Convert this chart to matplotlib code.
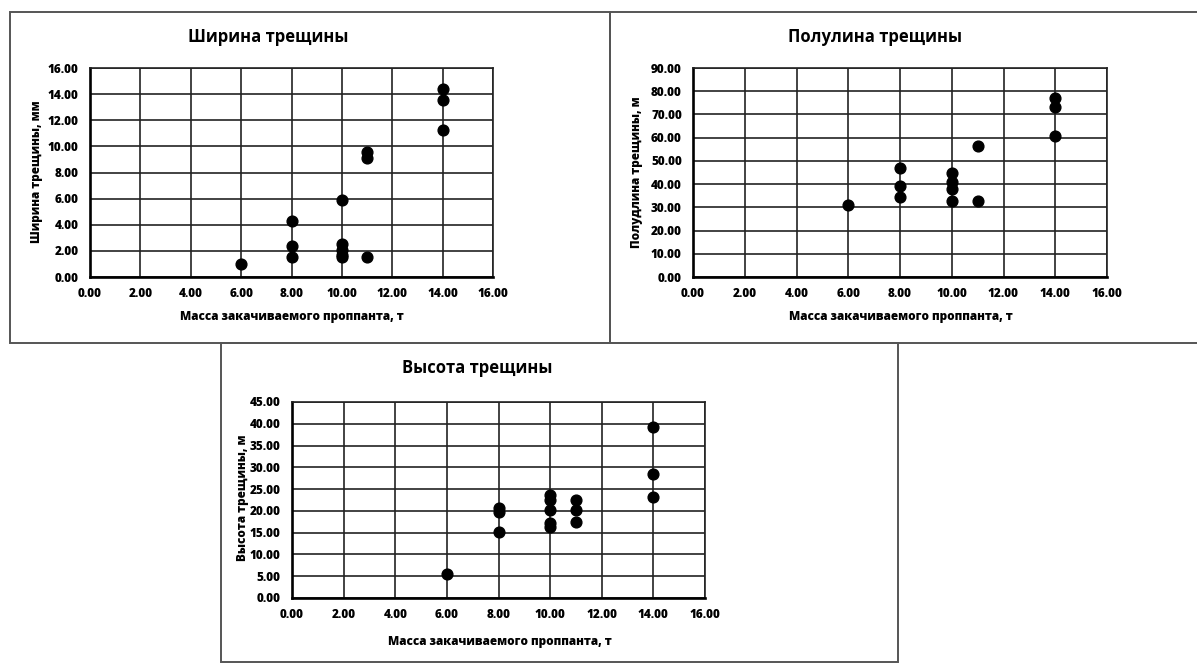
import matplotlib.pyplot as plt
from matplotlib.patches import Rectangle

plt.rcParams['font.family'] = ['Open Sans', 'DejaVu Sans']

xlab = 'Масса закачиваемого проппанта, т'

# Ширина трещины
w_x = [6, 8, 8, 8, 10, 10, 10, 10, 10, 11, 11, 11, 14, 14, 14]
w_y = [1.0, 4.3, 2.35, 1.55, 5.9, 2.5, 2.05, 1.7, 1.5, 9.6, 9.1, 1.55, 14.4, 13.55, 11.25]

# Полудлина трещины
l_x = [6, 8, 8, 8, 10, 10, 10, 10, 11, 11, 14, 14, 14]
l_y = [31.0, 46.8, 39.3, 34.6, 44.6, 41.0, 37.8, 32.7, 56.2, 32.7, 77.0, 73.1, 60.8]

# Высота трещины
h_x = [6, 8, 8, 8, 10, 10, 10, 10, 10, 11, 11, 11, 14, 14, 14]
h_y = [5.4, 20.6, 19.8, 15.1, 23.6, 22.6, 20.1, 17.2, 16.4, 22.4, 20.1, 17.5, 39.3, 28.4, 23.3]

W, H = 1197, 664
fig = plt.figure(figsize=(W / 100, H / 100), dpi=100)


def px(x, y):
    return x / W, 1 - y / H


# panel frames
for (x0, y0, x1, y1) in [(10, 12, 610, 343), (610, 12, 1200, 343), (221, 343, 898, 662)]:
    fig.patches.append(Rectangle(px(x0, y1), (x1 - x0) / W, (y1 - y0) / H,
                                 transform=fig.transFigure, fill=False,
                                 edgecolor='#555555', linewidth=1.4))


def panel(rect, xs, ys, ymax, ystep, title, tpos, ylabel, ypos, xpos):
    l, t, r, b = rect
    ax = fig.add_axes([l / W, 1 - b / H, (r - l) / W, (b - t) / H])
    ax.scatter(xs, ys, s=60, color='black', zorder=3, clip_on=False)
    ax.set_xlim(0, 16)
    ax.set_ylim(0, ymax)
    ax.set_xticks(range(0, 17, 2))
    ax.set_yticks([i * ystep for i in range(int(round(ymax / ystep)) + 1)])
    ax.xaxis.set_major_formatter(lambda v, p: '%.2f' % v)
    ax.yaxis.set_major_formatter(lambda v, p: '%.2f' % v)
    ax.tick_params(length=0, labelsize=8.5, pad=8)
    for lab in ax.get_xticklabels() + ax.get_yticklabels():
        lab.set_fontweight('heavy')
    ax.grid(True, color='#222222', linewidth=1.2)
    ax.set_axisbelow(True)
    for s in ['left', 'bottom']:
        ax.spines[s].set_linewidth(1.9)
        ax.spines[s].set_color('black')
    for s in ['top', 'right']:
        ax.spines[s].set_linewidth(1.2)
        ax.spines[s].set_color('#222222')
    fig.text(*px(*tpos), title, ha='center', va='center', fontsize=12,
             fontweight='bold')
    fig.text(*px(*xpos), xlab, ha='center', va='center', fontsize=8.5,
             fontweight='heavy')
    fig.text(*px(*ypos), ylabel, ha='center', va='center', fontsize=8.5,
             fontweight='heavy', rotation=90)
    return ax


panel((90, 68, 493, 277), w_x, w_y, 16, 2, 'Ширина трещины', (268, 37),
      'Ширина трещины, мм', (37, 172), (292, 317))
panel((693, 68, 1107, 277), l_x, l_y, 90, 10, 'Полулина трещины', (875, 37),
      'Полудлина трещины, м', (637, 172), (901, 317))
panel((292, 402, 705, 598), h_x, h_y, 45, 5, 'Высота трещины', (477, 368),
      'Высота трещины, м', (243, 498), (500, 642))

fig.savefig('out.png', dpi=100)
